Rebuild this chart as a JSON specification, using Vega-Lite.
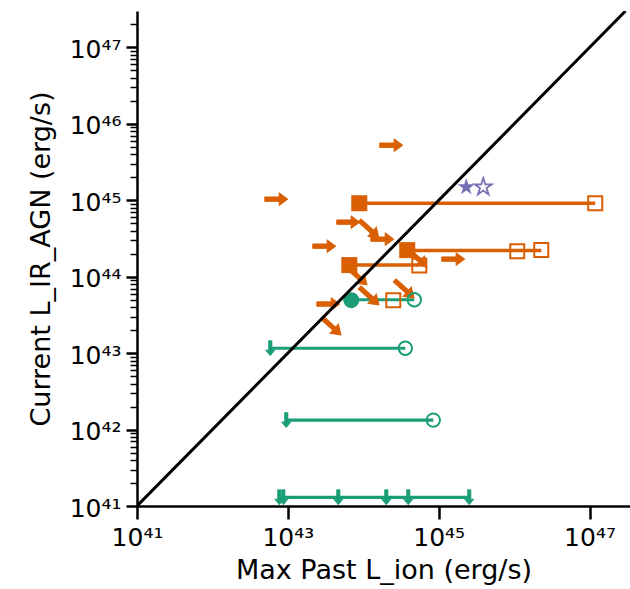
{
  "$schema": "https://vega.github.io/schema/vega-lite/v6.json",
  "autosize": "none",
  "width": 493,
  "height": 495,
  "padding": {"left": 137, "top": 11, "right": 0, "bottom": 83},
  "background": "white",
  "config": {"view": {"stroke": null}, "axis": {"grid": false}},
  "datasets": {
    "segs": [
      {"grp": "orange", "x": 8.85e43, "x2": 1.19e47, "y": 9.16e44},
      {"grp": "orange", "x": 3.83e44, "x2": 2.29e46, "y": 2.2e44},
      {"grp": "orange", "x": 6.53e43, "x2": 5.53e44, "y": 1.42e44},
      {"grp": "green", "x": 6.93e43, "x2": 4.75e44, "y": 5.0e43},
      {"grp": "green", "x": 5.85e42, "x2": 3.61e44, "y": 1.16e43},
      {"grp": "green", "x": 9.53e42, "x2": 8.48e44, "y": 1.33e42},
      {"grp": "green", "x": 7.71e42, "x2": 2.54e45, "y": 1.3e41}
    ],
    "pts": [
      {"kind": "filled_sq", "x": 8.85e43, "y": 9.16e44},
      {"kind": "filled_sq", "x": 3.83e44, "y": 2.23e44},
      {"kind": "filled_sq", "x": 6.53e43, "y": 1.42e44},
      {"kind": "open_sq", "x": 1.19e47, "y": 9.16e44},
      {"kind": "open_sq", "x": 1.10e46, "y": 2.16e44},
      {"kind": "open_sq", "x": 2.29e46, "y": 2.23e44},
      {"kind": "open_sq", "x": 5.53e44, "y": 1.40e44},
      {"kind": "open_sq", "x": 2.50e44, "y": 4.94e43},
      {"kind": "filled_circ", "x": 6.93e43, "y": 4.94e43},
      {"kind": "open_circ", "x": 4.75e44, "y": 5.0e43},
      {"kind": "open_circ", "x": 3.61e44, "y": 1.16e43},
      {"kind": "open_circ", "x": 8.48e44, "y": 1.33e42},
      {"kind": "down", "x": 5.85e42, "y": 1.16e43},
      {"kind": "down", "x": 9.53e42, "y": 1.33e42},
      {"kind": "down", "x": 7.71e42, "y": 1.3e41},
      {"kind": "down", "x": 8.71e42, "y": 1.3e41},
      {"kind": "down", "x": 4.67e43, "y": 1.3e41},
      {"kind": "down", "x": 2.02e44, "y": 1.3e41},
      {"kind": "down", "x": 3.95e44, "y": 1.3e41},
      {"kind": "down", "x": 2.54e45, "y": 1.3e41},
      {"kind": "right", "x": 2.35e44, "y": 5.26e45},
      {"kind": "right", "x": 7.03e42, "y": 1.035e45},
      {"kind": "right", "x": 6.32e43, "y": 5.18e44},
      {"kind": "right", "x": 1.79e44, "y": 3.10e44},
      {"kind": "right", "x": 3.04e43, "y": 2.51e44},
      {"kind": "right", "x": 1.56e45, "y": 1.70e44},
      {"kind": "right", "x": 3.44e43, "y": 4.39e43},
      {"kind": "diag", "x": 1.20e44, "y": 4.19e44},
      {"kind": "diag", "x": 5.20e44, "y": 1.75e44},
      {"kind": "diag", "x": 8.34e43, "y": 1.02e44},
      {"kind": "diag", "x": 1.20e44, "y": 5.57e43},
      {"kind": "diag", "x": 3.50e44, "y": 6.89e43},
      {"kind": "diag", "x": 3.77e43, "y": 2.26e43},
      {"kind": "filled_star", "x": 2.32e45, "y": 1.49e45},
      {"kind": "open_star", "x": 3.9e45, "y": 1.49e45}
    ],
    "oneToOne": [
      {"x": 1e41, "y": 1e41},
      {"x": 3e47, "y": 3e47}
    ]
  },
  "encoding": {
    "x": {
      "field": "x", "type": "quantitative",
      "scale": {"type": "log", "domain": [1e41, 3.44e47], "nice": false, "zero": false},
      "axis": {
        "values": [1e41, 1e43, 1e45, 1e47],
        "labelExpr": "'10' + ['⁴¹','⁴²','⁴³','⁴⁴','⁴⁵','⁴⁶','⁴⁷'][round(log(datum.value)/LN10) - 41]",
        "domainColor": "black", "domainWidth": 2.5,
        "tickColor": "black", "tickSize": 13, "tickWidth": 2.5,
        "labelFont": "DejaVu Sans", "labelFontSize": 25, "labelColor": "black",
        "labelBaseline": "alphabetic", "labelPadding": 26, "labelFlush": false, "labelOverlap": false,
        "title": "Max Past L_ion (erg/s)",
        "titleFont": "DejaVu Sans", "titleFontSize": 27, "titleFontWeight": "normal", "titleColor": "black",
        "titleBaseline": "alphabetic", "titleY": 72
      }
    },
    "y": {
      "field": "y", "type": "quantitative",
      "scale": {"type": "log", "domain": [1e41, 3e47], "nice": false, "zero": false},
      "axis": {
        "values": [1e41, 2e41, 3e41, 4e41, 5e41, 6e41, 7e41, 8e41, 9e41,
                   1e42, 2e42, 3e42, 4e42, 5e42, 6e42, 7e42, 8e42, 9e42,
                   1e43, 2e43, 3e43, 4e43, 5e43, 6e43, 7e43, 8e43, 9e43,
                   1e44, 2e44, 3e44, 4e44, 5e44, 6e44, 7e44, 8e44, 9e44,
                   1e45, 2e45, 3e45, 4e45, 5e45, 6e45, 7e45, 8e45, 9e45,
                   1e46, 2e46, 3e46, 4e46, 5e46, 6e46, 7e46, 8e46, 9e46,
                   1e47, 2e47],
        "labelExpr": "abs(log(datum.value)/LN10 - round(log(datum.value)/LN10)) < 1e-6 ? '10' + ['⁴¹','⁴²','⁴³','⁴⁴','⁴⁵','⁴⁶','⁴⁷'][round(log(datum.value)/LN10) - 41] : ''",
        "domainColor": "black", "domainWidth": 2.5,
        "tickColor": "black",
        "tickSize": {"condition": {"test": "abs(log(datum.value)/LN10 - round(log(datum.value)/LN10)) < 1e-6", "value": 11}, "value": 7},
        "tickWidth": {"condition": {"test": "abs(log(datum.value)/LN10 - round(log(datum.value)/LN10)) < 1e-6", "value": 2.5}, "value": 1.5},
        "labelFont": "DejaVu Sans", "labelFontSize": 25, "labelColor": "black",
        "labelBaseline": "alphabetic", "labelOffset": 10, "labelPadding": 5, "labelFlush": false, "labelOverlap": false,
        "title": "Current L_IR_AGN (erg/s)",
        "titleFont": "DejaVu Sans", "titleFontSize": 27, "titleFontWeight": "normal", "titleColor": "black",
        "titleBaseline": "alphabetic", "titleAlign": "center", "titleAngle": -90,
        "titleX": -88, "titleY": 247.5
      }
    }
  },
  "layer": [
    {
      "data": {"name": "segs"},
      "transform": [{"filter": "datum.grp == 'green'"}],
      "mark": {"type": "rule", "color": "#1b9e77", "strokeWidth": 3.2},
      "encoding": {"x2": {"field": "x2"}}
    },
    {
      "data": {"name": "segs"},
      "transform": [{"filter": "datum.grp == 'orange'"}],
      "mark": {"type": "rule", "color": "#d95f02", "strokeWidth": 3.5},
      "encoding": {"x2": {"field": "x2"}}
    },
    {
      "data": {"name": "pts"},
      "transform": [{"filter": "datum.kind == 'right'"}],
      "mark": {"type": "point", "filled": true, "opacity": 1, "color": "#d95f02", "size": 529, "strokeWidth": 1, "stroke": "#d95f02",
               "shape": "M-1,-0.19L0.25,-0.19L0.25,-0.55L1,0L0.25,0.55L0.25,0.19L-1,0.19Z"}
    },
    {
      "data": {"name": "pts"},
      "transform": [{"filter": "datum.kind == 'diag'"}],
      "mark": {"type": "point", "filled": true, "opacity": 1, "color": "#d95f02", "size": 676, "angle": 42, "strokeWidth": 1, "stroke": "#d95f02",
               "shape": "M-1,-0.16L0.3,-0.16L0.3,-0.48L1,0L0.3,0.48L0.3,0.16L-1,0.16Z"}
    },
    {
      "data": {"name": "pts"},
      "transform": [{"filter": "datum.kind == 'down'"}],
      "mark": {"type": "point", "filled": true, "opacity": 1, "color": "#1b9e77", "size": 225, "strokeWidth": 0.8, "stroke": "#1b9e77",
               "shape": "M-0.22,-1L0.22,-1L0.22,0.25L0.62,0.25L0,1L-0.62,0.25L-0.22,0.25Z"}
    },
    {
      "data": {"name": "pts"},
      "transform": [{"filter": "datum.kind == 'filled_sq'"}],
      "mark": {"type": "point", "filled": true, "opacity": 1, "color": "#d95f02", "size": 256, "shape": "square"}
    },
    {
      "data": {"name": "pts"},
      "transform": [{"filter": "datum.kind == 'open_sq'"}],
      "mark": {"type": "point", "filled": false, "opacity": 1, "color": "#d95f02", "size": 196, "strokeWidth": 2, "shape": "square"}
    },
    {
      "data": {"name": "pts"},
      "transform": [{"filter": "datum.kind == 'filled_circ'"}],
      "mark": {"type": "point", "filled": true, "opacity": 1, "color": "#1b9e77", "size": 256, "shape": "circle"}
    },
    {
      "data": {"name": "pts"},
      "transform": [{"filter": "datum.kind == 'open_circ'"}],
      "mark": {"type": "point", "filled": false, "opacity": 1, "color": "#1b9e77", "size": 180, "strokeWidth": 2, "shape": "circle"}
    },
    {
      "data": {"name": "pts"},
      "transform": [{"filter": "datum.kind == 'filled_star'"}],
      "mark": {"type": "point", "filled": true, "opacity": 1, "color": "#7570b3", "size": 324,
               "shape": "M0,-1L0.225,-0.309L0.951,-0.309L0.363,0.118L0.588,0.809L0,0.382L-0.588,0.809L-0.363,0.118L-0.951,-0.309L-0.225,-0.309Z"}
    },
    {
      "data": {"name": "pts"},
      "transform": [{"filter": "datum.kind == 'open_star'"}],
      "mark": {"type": "point", "filled": false, "opacity": 1, "color": "#7570b3", "size": 324, "strokeWidth": 1.8,
               "shape": "M0,-1L0.225,-0.309L0.951,-0.309L0.363,0.118L0.588,0.809L0,0.382L-0.588,0.809L-0.363,0.118L-0.951,-0.309L-0.225,-0.309Z"}
    },
    {
      "data": {"name": "oneToOne"},
      "mark": {"type": "line", "color": "black", "strokeWidth": 3, "clip": true}
    },
    {
      "data": {"values": [{}]},
      "mark": {"type": "rule", "color": "black", "strokeWidth": 2.5},
      "encoding": {
        "x": {"datum": 1e41, "type": "quantitative"},
        "x2": {"datum": 3.44e47},
        "y": {"datum": 3e47, "type": "quantitative"}
      }
    }
  ]
}
